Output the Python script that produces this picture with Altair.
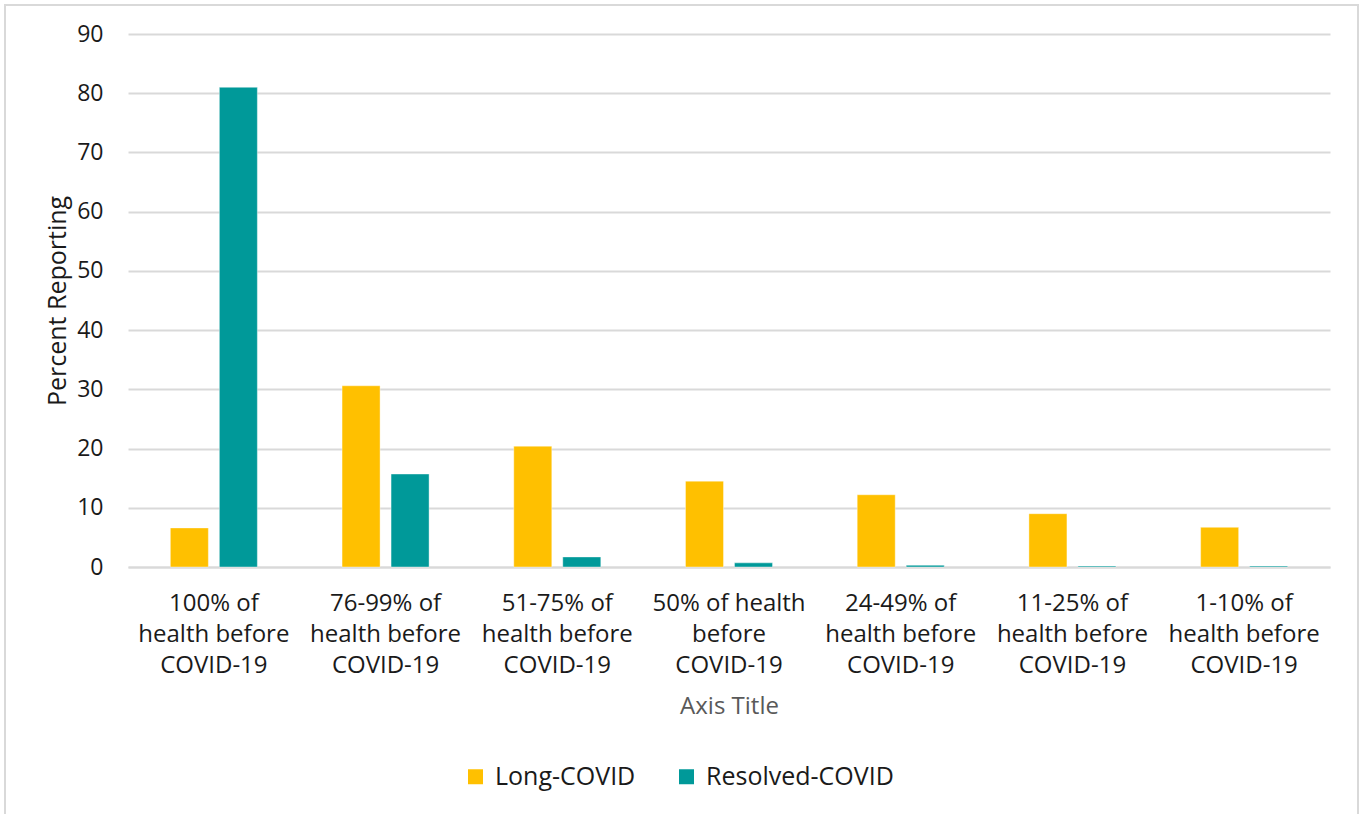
import altair as alt
import pandas as pd

categories = [
    "100% of health before COVID-19",
    "76-99% of health before COVID-19",
    "51-75% of health before COVID-19",
    "50% of health before COVID-19",
    "24-49% of health before COVID-19",
    "11-25% of health before COVID-19",
    "1-10% of health before COVID-19",
]
label_lines = {
    "100% of health before COVID-19": ["100% of", "health before", "COVID-19"],
    "76-99% of health before COVID-19": ["76-99% of", "health before", "COVID-19"],
    "51-75% of health before COVID-19": ["51-75% of", "health before", "COVID-19"],
    "50% of health before COVID-19": ["50% of health", "before", "COVID-19"],
    "24-49% of health before COVID-19": ["24-49% of", "health before", "COVID-19"],
    "11-25% of health before COVID-19": ["11-25% of", "health before", "COVID-19"],
    "1-10% of health before COVID-19": ["1-10% of", "health before", "COVID-19"],
}
series = ["Long-COVID", "Resolved-COVID"]
long_covid = [6.6, 30.6, 20.4, 14.5, 12.2, 9.0, 6.7]
resolved_covid = [81.0, 15.7, 1.7, 0.7, 0.3, 0.15, 0.15]
colors = ["#FFC000", "#009999"]

rows = []
for c, a, b in zip(categories, long_covid, resolved_covid):
    rows.append({"cat": c, "series": series[0], "value": a})
    rows.append({"cat": c, "series": series[1], "value": b})
df = pd.DataFrame(rows)

label_expr = "{" + ",".join(
    '"%s": [%s]' % (k, ",".join('"%s"' % s for s in v)) for k, v in label_lines.items()
) + "}[datum.label]"

FONT = "Open Sans"

bars = alt.Chart(df).mark_bar(stroke="white", strokeOpacity=0.4, strokeWidth=1).encode(
    x=alt.X("cat:N", sort=categories,
            scale=alt.Scale(paddingInner=0, paddingOuter=0),
            axis=alt.Axis(title="Axis Title", labelAngle=0, labelExpr=label_expr,
                          labelFontSize=24, labelColor="#1a1a1a", labelFont=FONT,
                          labelPadding=24, labelLineHeight=31, labelBaseline="top",
                          ticks=False, domain=True, domainColor="#d9d9d9", domainWidth=2,
                          grid=False, titleFontSize=24, titleColor="#595959",
                          titleFont=FONT, titleFontWeight="normal", titlePadding=17)),
    xOffset=alt.XOffset("series:N", sort=series,
                        scale=alt.Scale(paddingInner=0.224, paddingOuter=0.864)),
    y=alt.Y("value:Q", scale=alt.Scale(domain=[0, 90]),
            axis=alt.Axis(title="Percent Reporting", values=list(range(0, 91, 10)),
                          labelFontSize=23, labelColor="#1a1a1a", labelFont=FONT,
                          labelPadding=25, ticks=False, domain=False,
                          gridColor="#d9d9d9", gridWidth=2,
                          titleFontSize=25, titleColor="#1a1a1a", titleFont=FONT,
                          titleFontWeight="normal", titlePadding=6)),
    color=alt.Color("series:N", sort=series,
                    scale=alt.Scale(domain=series, range=colors),
                    legend=alt.Legend(title=None, orient="none", direction="horizontal",
                                      legendX=335, legendY=730, symbolType="square",
                                      symbolSize=225, symbolStrokeWidth=0,
                                      labelFontSize=25, labelFont=FONT,
                                      labelColor="#1a1a1a", columnPadding=38,
                                      symbolOffset=0, labelOffset=7, labelLimit=300)),
)

border = alt.Chart(pd.DataFrame({"k": [0]})).mark_rect(
    fill=None, stroke="#d9d9d9", strokeWidth=2, clip=False
).encode(x=alt.value(-123), x2=alt.value(1230), y=alt.value(-29), y2=alt.value(790))

chart = alt.layer(border, bars).properties(
    width=1202, height=533,
    padding={"left": 128, "top": 34, "right": 30, "bottom": 247},
    autosize=alt.AutoSizeParams(type="none"),
).configure(background="white").configure_view(stroke=None)

chart.save("out.html", embed_options={"renderer": "svg", "actions": False})
